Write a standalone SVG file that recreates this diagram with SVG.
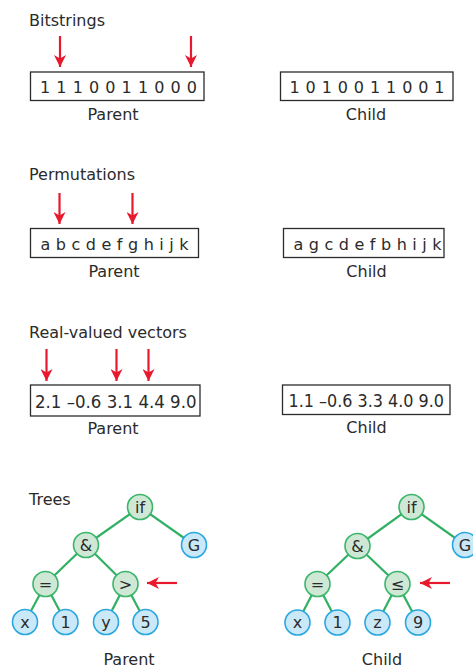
<svg xmlns="http://www.w3.org/2000/svg" width="473" height="669" viewBox="0 0 473 669">
<defs>
<marker id="ah" viewBox="0 0 12 12" refX="12" refY="6" markerWidth="12" markerHeight="12" markerUnits="userSpaceOnUse" orient="auto">
<path d="M0,0 L12,6 L0,12 L3.5,6 Z" fill="#e8192c"/>
</marker>
</defs>
<style>
text{font-family:"DejaVu Sans","Liberation Sans",sans-serif;fill:#2b2b2b;font-size:16px}
.mid{text-anchor:middle}
.box{fill:#fff;stroke:#2b2b2b;stroke-width:1.3}
.arr{stroke:#e8192c;stroke-width:2.2;fill:none;marker-end:url(#ah)}
.edge{stroke:#2fb063;stroke-width:2.2;fill:none}
.op circle{fill:#cfe8d6;stroke:#3ab56a;stroke-width:1.6}
.lf circle{fill:#c9e8f8;stroke:#2aa7e0;stroke-width:1.6}
.nt{text-anchor:middle;font-size:16px}
</style>
<rect width="473" height="669" fill="#fff"/>

<!-- Titles -->
<text x="29" y="26">Bitstrings</text>
<text x="29" y="180">Permutations</text>
<text x="29" y="338">Real-valued vectors</text>
<text x="29" y="505">Trees</text>

<!-- Arrows -->
<g id="arrows">
<line class="arr" x1="60" y1="36" x2="60" y2="67"/>
<line class="arr" x1="191" y1="36" x2="191" y2="67"/>
<line class="arr" x1="59.5" y1="193" x2="59.5" y2="224"/>
<line class="arr" x1="132.5" y1="193" x2="132.5" y2="224"/>
<line class="arr" x1="46.5" y1="349" x2="46.5" y2="381"/>
<line class="arr" x1="116.5" y1="349" x2="116.5" y2="381"/>
<line class="arr" x1="148.5" y1="349" x2="148.5" y2="381"/>
<line class="arr" x1="177" y1="583" x2="147" y2="583"/>
<line class="arr" x1="450" y1="583" x2="420" y2="583"/>
</g>

<!-- Bitstrings -->
<g id="bits-parent">
<rect class="box" x="30.5" y="72" width="173.5" height="28.5"/>
<text x="40" y="93" textLength="157" lengthAdjust="spacing">1 1 1 0 0 1 1 0 0 0</text>
<text class="mid" x="113" y="120">Parent</text>
</g>
<g id="bits-child">
<rect class="box" x="280.5" y="72" width="172.5" height="28.5"/>
<text x="289.5" y="93" textLength="155" lengthAdjust="spacing">1 0 1 0 0 1 1 0 0 1</text>
<text class="mid" x="366" y="120">Child</text>
</g>

<!-- Permutations -->
<g id="perm-parent">
<rect class="box" x="30.5" y="228.5" width="168" height="29"/>
<text x="40.5" y="250" textLength="148" lengthAdjust="spacing">a b c d e f g h i j k</text>
<text class="mid" x="114" y="277">Parent</text>
</g>
<g id="perm-child">
<rect class="box" x="283.5" y="228.5" width="160.5" height="29"/>
<text x="293.5" y="250" textLength="148" lengthAdjust="spacing">a g c d e f b h i j k</text>
<text class="mid" x="366.5" y="277">Child</text>
</g>

<!-- Real-valued -->
<g id="real-parent">
<rect class="box" x="30.5" y="385" width="169.5" height="31"/>
<text x="35" y="408" style="font-size:18.5px" textLength="161.5" lengthAdjust="spacingAndGlyphs">2.1 –0.6 3.1 4.4 9.0</text>
<text class="mid" x="113" y="434">Parent</text>
</g>
<g id="real-child">
<rect class="box" x="282.5" y="385" width="167.5" height="29.5"/>
<text x="288.5" y="407" style="font-size:18.5px" textLength="155.5" lengthAdjust="spacingAndGlyphs">1.1 –0.6 3.3 4.0 9.0</text>
<text class="mid" x="366.5" y="433">Child</text>
</g>

<!-- Tree edges -->
<g id="edges">
<line class="edge" x1="140" y1="507" x2="86" y2="545"/>
<line class="edge" x1="140" y1="507" x2="194" y2="545"/>
<line class="edge" x1="86" y1="545" x2="45.5" y2="584"/>
<line class="edge" x1="86" y1="545" x2="125.5" y2="584"/>
<line class="edge" x1="45.5" y1="584" x2="25" y2="622"/>
<line class="edge" x1="45.5" y1="584" x2="65.5" y2="622"/>
<line class="edge" x1="125.5" y1="584" x2="106" y2="622"/>
<line class="edge" x1="125.5" y1="584" x2="145.5" y2="622"/>

<line class="edge" x1="411.5" y1="507" x2="357.5" y2="546"/>
<line class="edge" x1="411.5" y1="507" x2="465" y2="545"/>
<line class="edge" x1="357.5" y1="546" x2="317.5" y2="584"/>
<line class="edge" x1="357.5" y1="546" x2="397.5" y2="584"/>
<line class="edge" x1="317.5" y1="584" x2="297.5" y2="622.5"/>
<line class="edge" x1="317.5" y1="584" x2="337.5" y2="622.5"/>
<line class="edge" x1="397.5" y1="584" x2="377.5" y2="622.5"/>
<line class="edge" x1="397.5" y1="584" x2="418" y2="622.5"/>
</g>

<!-- Parent tree nodes -->
<g id="p-if" class="op"><circle cx="140" cy="507" r="12.5"/><text class="nt" x="140" y="512.5">if</text></g>
<g id="p-and" class="op"><circle cx="86" cy="545" r="12.5"/><text class="nt" x="86" y="550.5">&amp;</text></g>
<g id="p-G" class="lf"><circle cx="194" cy="545" r="12.5"/><text class="nt" x="194" y="550.5">G</text></g>
<g id="p-eq" class="op"><circle cx="45.5" cy="584" r="12.5"/><text class="nt" x="45.5" y="589.5">=</text></g>
<g id="p-gt" class="op"><circle cx="125.5" cy="584" r="12.5"/><text class="nt" x="125.5" y="589.5">&gt;</text></g>
<g id="p-x" class="lf"><circle cx="25" cy="622" r="12.5"/><text class="nt" x="25" y="627.5">x</text></g>
<g id="p-1" class="lf"><circle cx="65.5" cy="622" r="12.5"/><text class="nt" x="65.5" y="627.5">1</text></g>
<g id="p-y" class="lf"><circle cx="106" cy="622" r="12.5"/><text class="nt" x="106" y="627.5">y</text></g>
<g id="p-5" class="lf"><circle cx="145.5" cy="622" r="12.5"/><text class="nt" x="145.5" y="627.5">5</text></g>
<text class="mid" x="129" y="664.5">Parent</text>

<!-- Child tree nodes -->
<g id="c-if" class="op"><circle cx="411.5" cy="507" r="12.5"/><text class="nt" x="411.5" y="512.5">if</text></g>
<g id="c-and" class="op"><circle cx="357.5" cy="546" r="12.5"/><text class="nt" x="357.5" y="551.5">&amp;</text></g>
<g id="c-G" class="lf"><circle cx="465" cy="545" r="12.5"/><text class="nt" x="465" y="550.5">G</text></g>
<g id="c-eq" class="op"><circle cx="317.5" cy="584" r="12.5"/><text class="nt" x="317.5" y="589.5">=</text></g>
<g id="c-le" class="op"><circle cx="397.5" cy="584" r="12.5"/><text class="nt" x="397.5" y="589.5">≤</text></g>
<g id="c-x" class="lf"><circle cx="297.5" cy="622.5" r="12.5"/><text class="nt" x="297.5" y="628">x</text></g>
<g id="c-1" class="lf"><circle cx="337.5" cy="622.5" r="12.5"/><text class="nt" x="337.5" y="628">1</text></g>
<g id="c-z" class="lf"><circle cx="377.5" cy="622.5" r="12.5"/><text class="nt" x="377.5" y="628">z</text></g>
<g id="c-9" class="lf"><circle cx="418" cy="622.5" r="12.5"/><text class="nt" x="418" y="628">9</text></g>
<text class="mid" x="382" y="664.5">Child</text>
</svg>
